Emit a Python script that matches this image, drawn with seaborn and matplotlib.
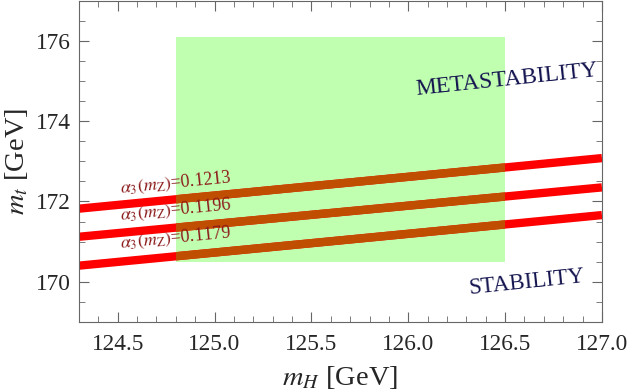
import numpy as np
import pandas as pd
import matplotlib
matplotlib.use("Agg")
import matplotlib.pyplot as plt
import matplotlib.patches as mpatches
import seaborn as sns

# ---- data ----
mH_ends = [124.3, 127.0]
alpha_labels = ["0.1213", "0.1196", "0.1179"]
mt_start = [171.82, 171.12, 170.40]
mt_end = [173.08, 172.35, 171.66]
green_x = [124.8, 126.5]
green_y = [170.5, 176.1]
label_x = 124.80
label_y = [172.45, 171.78, 171.08]

sns.set_theme(style="ticks")
plt.rcParams["font.family"] = ["Liberation Serif", "DejaVu Serif"]
plt.rcParams["mathtext.fontset"] = "stix"

rows = []
for lab, a, b in zip(alpha_labels, mt_start, mt_end):
    rows.append({"mH": mH_ends[0], "mt": a, "alpha": lab})
    rows.append({"mH": mH_ends[1], "mt": b, "alpha": lab})
df = pd.DataFrame(rows)

fig = plt.figure(figsize=(6.27, 3.92), dpi=100)
ax = fig.add_axes([0.126, 0.179, 0.834, 0.819])

rect = mpatches.Rectangle((green_x[0], green_y[0]), green_x[1] - green_x[0],
                          green_y[1] - green_y[0], facecolor="#c0ffb0",
                          edgecolor="none", zorder=1)
ax.add_patch(rect)

sns.lineplot(data=df, x="mH", y="mt", hue="alpha", palette=["#ff0000"] * 3,
             linewidth=6, legend=False, ax=ax, zorder=2)
for ln in ax.lines:
    ln.set_solid_capstyle("butt")

clip = mpatches.Rectangle((green_x[0], green_y[0]), green_x[1] - green_x[0],
                          green_y[1] - green_y[0], transform=ax.transData,
                          facecolor="none", edgecolor="none")
n0 = len(ax.lines)
sns.lineplot(data=df, x="mH", y="mt", hue="alpha", palette=["#c04e00"] * 3,
             linewidth=6, legend=False, ax=ax, zorder=3)
for ln in ax.lines[n0:]:
    ln.set_solid_capstyle("butt")
    ln.set_clip_path(clip)

for lab, ly in zip(alpha_labels, label_y):
    ax.text(label_x, ly, r"$\alpha_3(m_{\rm Z})$=" + lab, color="#8b1a1a",
            fontsize=13, rotation=5.5, ha="center", va="center",
            rotation_mode="anchor", zorder=4)

ax.text(126.51, 175.02, "METASTABILITY", color="#14144f", fontsize=16.8,
        rotation=6, ha="center", va="center", rotation_mode="anchor")
ax.text(126.61, 169.98, "STABILITY", color="#14144f", fontsize=16.5,
        rotation=6, ha="center", va="center", rotation_mode="anchor")

ax.set_xlim(124.3, 127.0)
ax.set_ylim(169.0, 177.0)
ax.set_xticks([124.5, 125.0, 125.5, 126.0, 126.5, 127.0])
ax.set_xticklabels(["124.5", "125.0", "125.5", "126.0", "126.5", "127.0"])
ax.set_yticks([170, 172, 174, 176])
ax.set_xticks(np.arange(124.3, 127.01, 0.1), minor=True)
ax.set_yticks(np.arange(169.0, 177.01, 0.5), minor=True)
ax.tick_params(which="both", direction="in", top=True, right=True,
               labelsize=16.8, color="#666666")
ax.tick_params(axis="x", pad=9)
ax.tick_params(axis="y", pad=6)
ax.tick_params(which="major", length=7, width=0.8)
ax.tick_params(which="minor", length=4, width=0.6)
for s in ax.spines.values():
    s.set_color("#666666")
    s.set_linewidth(0.8)

ax.set_xlabel(r"$m_H$ [GeV]", fontsize=20.5, labelpad=6)
ax.set_ylabel(r"$m_t$ [GeV]", fontsize=20.5, labelpad=4)

fig.savefig("out.png", dpi=100)
